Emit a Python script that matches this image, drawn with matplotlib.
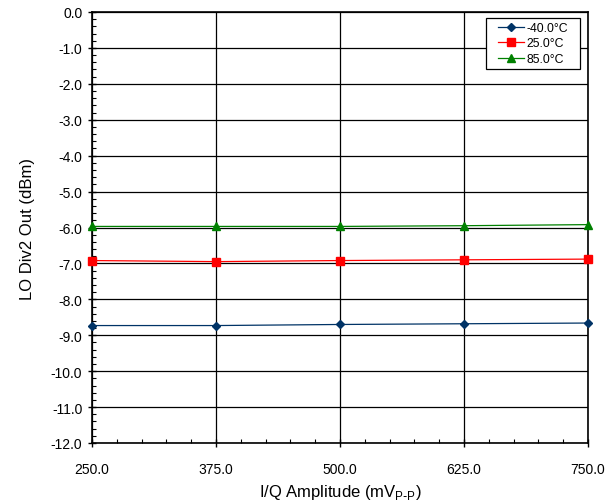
import numpy as np
import matplotlib.pyplot as plt
from matplotlib.patches import Rectangle
from matplotlib.ticker import MultipleLocator, FormatStrFormatter

plt.rcParams['font.family'] = ['Liberation Sans', 'DejaVu Sans']

amplitude = [250.0, 375.0, 500.0, 625.0, 750.0]
out_m40 = [-8.73, -8.73, -8.70, -8.68, -8.66]
out_25 = [-6.92, -6.95, -6.92, -6.90, -6.88]
out_85 = [-5.97, -5.97, -5.97, -5.95, -5.92]
labels = ['-40.0°C', '25.0°C', '85.0°C']

fig = plt.figure(figsize=(6.16, 5.02), dpi=100)
ax = fig.add_axes([92 / 616, 58 / 502, 496 / 616, 431 / 502])

ax.plot(amplitude, out_m40, color='#003366', marker='D', markersize=4.5, linewidth=0.9, label=labels[0], clip_on=False, zorder=3)
ax.plot(amplitude, out_25, color='#ff0000', marker='s', markersize=5.5, linewidth=0.9, label=labels[1], clip_on=False, zorder=3)
ax.plot(amplitude, out_85, color='#008000', marker='^', markersize=6, linewidth=0.9, label=labels[2], clip_on=False, zorder=3)

ax.set_xlim(250, 750)
ax.set_ylim(-12, 0)
ax.xaxis.set_major_locator(MultipleLocator(125))
ax.xaxis.set_minor_locator(MultipleLocator(25))
ax.yaxis.set_major_locator(MultipleLocator(1))
ax.yaxis.set_minor_locator(MultipleLocator(0.2))
ax.xaxis.set_major_formatter(FormatStrFormatter('%.1f'))
ax.yaxis.set_major_formatter(FormatStrFormatter('%.1f'))
ax.tick_params(which='major', direction='inout', length=6, width=1, labelsize=10)
ax.tick_params(axis='x', which='major', pad=11)
ax.tick_params(axis='y', which='major', pad=4)
ax.tick_params(which='minor', direction='in', length=3, width=0.8)
ax.grid(True, which='major', color='black', linewidth=0.9)
for s in ax.spines.values():
    s.set_linewidth(1.2)

ax.set_xlabel('I/Q Amplitude (mV$_{\\mathregular{P\\text{-}P}}$)', fontsize=12, labelpad=4)
ax.set_ylabel('LO Div2 Out (dBm)', fontsize=12, labelpad=11)

# legend box drawn by hand (wider side padding than matplotlib allows)
box = Rectangle((0.795, 0.868), 0.189, 0.118, transform=ax.transAxes,
                facecolor='white', edgecolor='black', linewidth=0.9, zorder=4)
ax.add_patch(box)
leg = ax.legend(loc='center', bbox_to_anchor=(0.8895, 0.927), fontsize=8.8, frameon=False,
                borderpad=0, labelspacing=0.3, handlelength=2.1, handletextpad=0.25)
leg.set_zorder(5)

plt.savefig('out.png', dpi=100)
